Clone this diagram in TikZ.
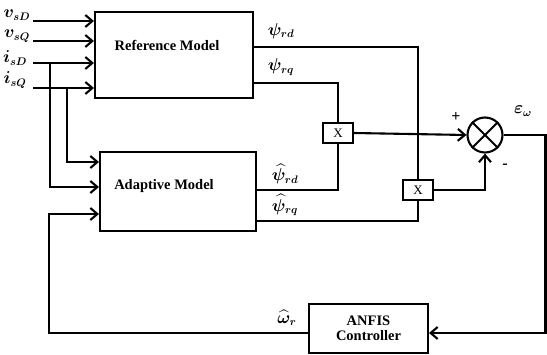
\documentclass[tikz,border=0pt]{standalone}
\usepackage{amsmath,bm}
\usepackage{fontspec}
\setmainfont{Liberation Serif}[BoldFont={Liberation Serif Bold}]
\usetikzlibrary{arrows.meta}
\begin{document}
\begin{tikzpicture}[x=1pt,y=-1pt, line width=2.1pt,
  blk/.style={draw, rectangle, inner sep=0pt},
  sig/.style={-{Straight Barb[length=7pt,width=12pt,line width=2.1pt]}},
  lbl/.style={font=\fontsize{14.5}{15.5}\selectfont\bfseries},
  sym/.style={font=\fontsize{16}{18}\selectfont, inner sep=0pt},
  mul/.style={blk, minimum width=30pt, minimum height=20pt, font=\fontsize{13}{14}\selectfont}
]
\useasboundingbox (0,0) rectangle (547,355);

% blocks
\node[blk, minimum width=158pt, minimum height=86pt] (ref) at (174,55) {};
\node[lbl] (reft) at (167,45) {Reference Model};
\node[blk, minimum width=156pt, minimum height=79pt] (adp) at (178,191.5) {};
\node[lbl] (adpt) at (164,186) {Adaptive Model};
\node[blk, lbl, minimum width=119pt, minimum height=49pt, align=center] (anf) at (368.5,328.5) {ANFIS\\Controller};
\node[mul] (m1) at (338,133) {X};
\node[mul] (m2) at (418,190) {X};
\node[draw, circle, minimum size=35pt, inner sep=0pt] (sum) at (485,135) {};
\draw (sum.north west) -- (sum.south east);
\draw (sum.north east) -- (sum.south west);

% stator inputs
\coordinate (vD) at (33,21);
\coordinate (vQ) at (33,41);
\coordinate (iD) at (33,63);
\coordinate (iQ) at (33,88);
\draw[sig] (vD) -- (vD -| ref.west);
\draw[sig] (vQ) -- (vQ -| ref.west);
\draw[sig] (iD) -- (iD -| ref.west);
\draw[sig] (iQ) -- (iQ -| ref.west);
\draw[sig] (50,63) -- (50,187) -- (adp.west |- 0,187);
\draw[sig] (67,88) -- (67,162) -- (adp.west |- 0,162);

% flux outputs to the multipliers
\draw (ref.east |- 0,47) -- (418,47) -- (m2.north);
\draw (ref.east |- 0,83) -- (338,83) -- (m1.north);
\draw (adp.east |- 0,190) -- (338,190) -- (m1.south);
\draw (adp.east |- 0,221) -- (418,221) -- (m2.south);

% error and feedback
\draw[sig] (m1.east) -- (sum.west);
\draw[sig] (m2.east) -- (sum.south |- m2.east) -- (sum.south);
\draw[sig] (sum.east) -- (545.5,135) -- (545.5,333) -- (anf.east |- 0,333);
\draw[sig] (anf.west |- 0,333) -- (49,333) -- (49,214) -- (adp.west |- 0,214);

% signal labels
\node[sym] (lvD) at (17,15) {$\bm{v}_{\bm{sD}}$};
\node[sym] (lvQ) at (17,36) {$\bm{v}_{\bm{sQ}}$};
\node[sym] (liD) at (15,58) {$\bm{i}_{\bm{sD}}$};
\node[sym] (liQ) at (15,80) {$\bm{i}_{\bm{sQ}}$};
\node[sym] (lpd) at (281,31) {$\bm{\psi}_{\bm{rd}}$};
\node[sym] (lpq) at (281,67) {$\bm{\psi}_{\bm{rq}}$};
\node[sym] (lhd) at (285,174) {$\widehat{\bm{\psi}}_{\bm{rd}}$};
\node[sym] (lhq) at (285,205) {$\widehat{\bm{\psi}}_{\bm{rq}}$};
\node[sym] (leps) at (523,111) {$\bm{\varepsilon}_{\bm{\omega}}$};
\node[sym] (lw) at (287,318) {$\widehat{\bm{\omega}}_{\bm{r}}$};
\node[sym] (lplus) at (456,117) {\textbf{+}};
\node[sym] (lminus) at (505,166) {\textbf{-}};
\end{tikzpicture}
\end{document}
